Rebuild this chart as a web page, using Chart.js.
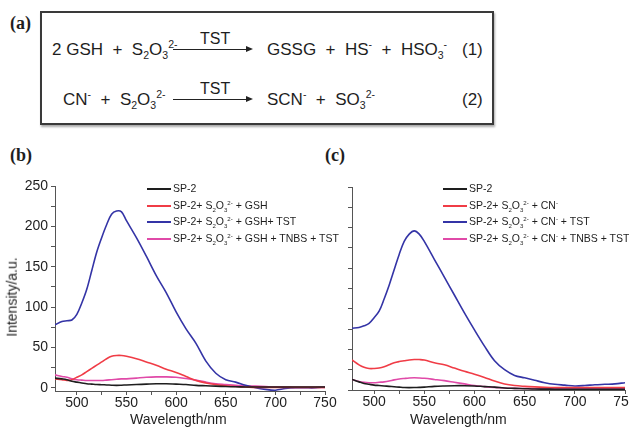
<!DOCTYPE html>
<html>
<head>
<meta charset="utf-8">
<script src="https://cdn.jsdelivr.net/npm/chart.js@4/dist/chart.umd.min.js"></script>
<style>
body { margin:0; width:629px; height:427px; background:#fff; position:relative; overflow:hidden;
       font-family:"Liberation Sans", Arial, sans-serif; color:#1e1e1e; }
.abs { position:absolute; white-space:nowrap; }
.tag { font-family:"Liberation Serif", "Times New Roman", serif; font-weight:bold; font-size:18px; }
#box { left:40px; top:11px; width:450px; height:110px; border:2px solid #3a3a3a; box-shadow:1px 2px 2px #aaa; }
.eq { font-size:17px; line-height:20px; }
.tst { font-size:16px; line-height:18px; }
sub, sup { font-size:62%; line-height:0; }
.arrow { height:1px; background:#222; width:74px; }
.arrow:after { content:""; position:absolute; right:-6px; top:-3px; border-left:7px solid #222;
               border-top:3.5px solid transparent; border-bottom:3.5px solid transparent; }
.leg { font-size:10.5px; line-height:14px; }
.leg sub, .leg sup { font-size:58%; }
.swatch { height:2px; }
.axt { font-size:14px; line-height:16px; }
canvas { position:absolute; }
</style>
</head>
<body>
<!-- (a) reaction scheme -->
<div class="abs tag" style="left:10px;top:13px">(a)</div>
<div class="abs" id="box"></div>
<div class="abs eq" style="left:52px;top:40px">2 GSH &nbsp;+&nbsp; S<sub>2</sub>O<sub>3</sub><sup>2-</sup></div>
<div class="abs tst" style="left:200px;top:30px">TST</div>
<div class="abs arrow" style="left:173px;top:49px"></div>
<div class="abs eq" style="left:267px;top:40px">GSSG &nbsp;+&nbsp; HS<sup>-</sup> &nbsp;+&nbsp; HSO<sub>3</sub><sup>-</sup></div>
<div class="abs eq" style="left:462px;top:40px">(1)</div>
<div class="abs eq" style="left:63px;top:90px">CN<sup>-</sup> &nbsp;+&nbsp; S<sub>2</sub>O<sub>3</sub><sup>2-</sup></div>
<div class="abs tst" style="left:200px;top:80px">TST</div>
<div class="abs arrow" style="left:173px;top:99px"></div>
<div class="abs eq" style="left:267px;top:90px">SCN<sup>-</sup> &nbsp;+&nbsp; SO<sub>3</sub><sup>2-</sup></div>
<div class="abs eq" style="left:462px;top:90px">(2)</div>

<div class="abs tag" style="left:10px;top:145px">(b)</div>
<div class="abs tag" style="left:325px;top:145px">(c)</div>

<canvas id="chartB" width="345" height="287" style="left:0;top:140px"></canvas>
<canvas id="chartC" width="289" height="287" style="left:340px;top:140px"></canvas>
<div id="legB"></div>
<div id="legC"></div>

<!-- axis titles -->
<div class="abs axt" style="left:130px;top:411px">Wavelength/nm</div>
<div class="abs axt" style="left:410px;top:411px">Wavelength/nm</div>
<div class="abs axt" style="left:-28px;top:289px;transform:rotate(-90deg)">Intensity/a.u.</div>

<script>
// wavelength grid (nm), same for both panels
const wavelength = [478,485,490,495,500,505,510,515,520,525,530,535,540,545,550,560,570,580,590,600,
                    610,620,630,640,650,660,670,680,690,700,710,720,730,740,750];

// panel (b): GSH
const bBlack = [12,11,10,8,7,6,5,4.5,4,3.8,3.5,3.2,3,3.2,3.5,4,4.5,5,5,4.5,4,3,2.5,2,1.5,1.2,1,1,1,1,1,1,1,1,1];
const bRed   = [11,10,9,10,13,16,20,24,28,32,36,39,40,40,39,36,32,28,23,19,14,9,6,4,2.5,1.5,1,0.5,0.5,0.5,0.5,0.5,0.5,0.5,0.5];
const bBlue  = [78,82,83,84,91,105,122,145,168,186,202,215,219,218,207,186,163,139,118,94,73,55,33,18,10,7,3,0,-2,-3,-1,0,0,0,1];
const bPink  = [16,14,13,11,10,9.5,9,9,9,9,9.5,10,10.5,11,11,12,13,13.5,13.5,13,11.5,9.5,7,5,4,3,2.5,2,1.5,1,1,0.5,0.5,0.5,0.5];

// panel (c): CN-
const cBlack = [13,10,8,7,6,5.5,5,4.5,4,3.5,3,2.9,3,3.2,3.5,4.5,5,5.3,5.3,5,4.2,3.5,2.5,2,1.6,1.2,1.1,1,1,1,1,1,1,1,1];
const cRed   = [37,31,28,26.5,26.5,27,28.5,31,33.5,35,36,37,37.5,37.5,37,33.5,31,27,23,19.5,15.5,11,7.5,5.5,4.5,3.8,3.3,3,3,3,3,3,3,3,3];
const cBlue  = [76,77,79,82,89,97,112,129,148,167,183,192,196,192,183,161,139,117,95,74,54,36,25,18,15,12,9,7,6,5,5.5,6.5,7,7.5,9];
const cPink  = [13,10.5,9.5,9,9,9.5,10,11,12.5,13.5,14.2,14.8,15,14.8,14.4,13,11.5,9.5,7.5,5.5,4.2,3.2,2.5,2,1.8,1.6,1.6,1.6,1.6,1.6,1.5,1.5,1.5,1.5,1.5];

const colors = ['#1e1e1e', '#f03c46', '#3434a6', '#e04aa8'];
const labelsB = ['SP-2',
  'SP-2+ S<sub>2</sub>O<sub>3</sub><sup>2-</sup> + GSH',
  'SP-2+ S<sub>2</sub>O<sub>3</sub><sup>2-</sup> + GSH+ TST',
  'SP-2+ S<sub>2</sub>O<sub>3</sub><sup>2-</sup> + GSH + TNBS + TST'];
const labelsC = ['SP-2',
  'SP-2+ S<sub>2</sub>O<sub>3</sub><sup>2-</sup> + CN<sup>-</sup>',
  'SP-2+ S<sub>2</sub>O<sub>3</sub><sup>2-</sup> + CN<sup>-</sup> + TST',
  'SP-2+ S<sub>2</sub>O<sub>3</sub><sup>2-</sup> + CN<sup>-</sup> + TNBS + TST'];

const axisColor = '#555';
const tickFont = { family: '"Liberation Sans", Arial, sans-serif', size: 14 };

function makeDatasets(series, labels) {
    return series.map(function(vals, i) {
        return {
            label: labels[i].replace(/<[^>]+>/g, ''),
            data: wavelength.map(function(w, j) { return { x: w, y: vals[j] }; }),
            borderColor: colors[i],
            borderWidth: 1.6,
            pointRadius: 0,
            tension: 0.35,
            fill: false
        };
    });
}

// ticks every 25 (labels on every 50 only)
function every25(scale) {
    let t = [];
    for (let v = Math.ceil(scale.min / 25) * 25; v <= scale.max; v += 25) t.push({ value: v });
    scale.ticks = t;
}

function makeChart(id, series, labels, opt) {
    let ctx = document.getElementById(id).getContext('2d');
    return new Chart(ctx, {
        type: 'line',
        data: { datasets: makeDatasets(series, labels) },
        options: {
            responsive: false,
            animation: false,
            devicePixelRatio: 1,
            layout: { padding: opt.padding },
            plugins: { legend: { display: false }, tooltip: { enabled: false } },
            scales: {
                x: {
                    type: 'linear', min: 478, max: 750,
                    border: { color: axisColor, width: 1 },
                    grid: { drawOnChartArea: false, drawTicks: true, tickLength: 4, tickColor: axisColor },
                    afterBuildTicks: every25,
                    afterFit: function(s) { s.height = opt.xHeight; s.paddingLeft = 0; s.paddingRight = 0; },
                    ticks: {
                        autoSkip: false, maxRotation: 0, padding: 0,
                        color: '#1e1e1e', font: tickFont,
                        callback: function(v) { return v % 50 === 0 ? String(v) : ''; }
                    }
                },
                y: {
                    min: opt.yMin, max: 250,
                    border: { color: axisColor, width: 1 },
                    grid: { drawOnChartArea: false, drawTicks: true, tickLength: 4, tickColor: axisColor },
                    afterBuildTicks: every25,
                    afterFit: function(s) { s.width = opt.yWidth; s.paddingTop = 0; s.paddingBottom = 0; },
                    ticks: {
                        autoSkip: false, padding: 3, color: '#1e1e1e', font: tickFont,
                        callback: function(v) { return (opt.yLabels && v % 50 === 0) ? String(v) : ''; }
                    }
                }
            }
        }
    });
}

function makeLegend(id, labels, left, top) {
    let html = '';
    labels.forEach(function(lab, i) {
        let y = top + i * 16.5;
        html += '<div class="abs swatch" style="left:' + left + 'px;top:' + y + 'px;width:24px;background:' + colors[i] + '"></div>';
        html += '<div class="abs leg" style="left:' + (left + 26) + 'px;top:' + (y - 7) + 'px">' + lab + '</div>';
    });
    document.getElementById(id).innerHTML = html;
}

makeChart('chartB', [bBlack, bRed, bBlue, bPink], labelsB,
    { padding: { left: 0, top: 46, right: 20, bottom: 0 }, xHeight: 36, yWidth: 55, yMin: -4, yLabels: true });
makeChart('chartC', [cBlack, cRed, cBlue, cPink], labelsC,
    { padding: { left: 0, top: 47, right: 4, bottom: 0 }, xHeight: 37, yWidth: 12, yMin: 0, yLabels: false });

makeLegend('legB', labelsB, 147, 188);
makeLegend('legC', labelsC, 443, 188);
</script>
</body>
</html>
